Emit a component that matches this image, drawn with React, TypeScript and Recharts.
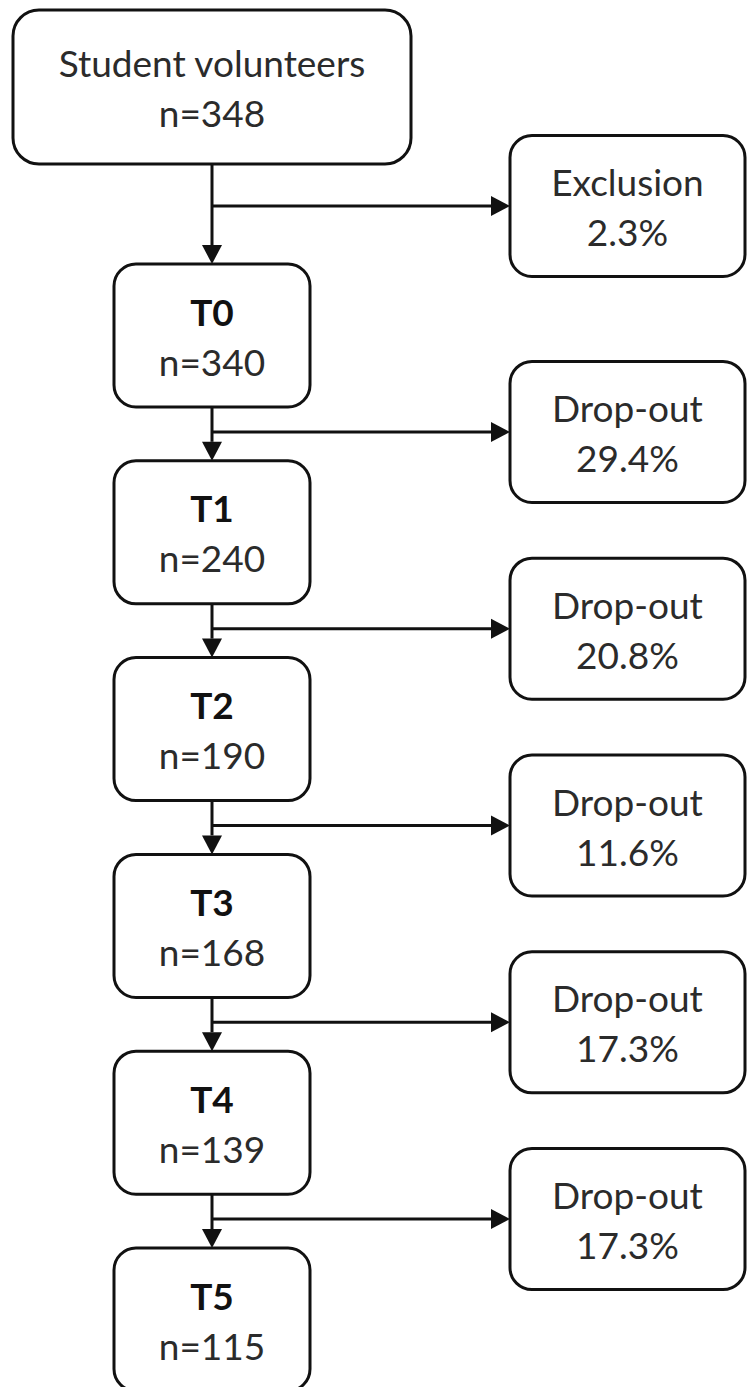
import React from 'react';
import { ScatterChart, Scatter, XAxis, YAxis, ReferenceLine } from 'recharts';

// Flowchart values
const startLabel = 'Student volunteers';
const startCount = 348;
const stages = ['T0', 'T1', 'T2', 'T3', 'T4', 'T5'];
const counts = [340, 240, 190, 168, 139, 115];
const exitLabels = ['Exclusion', 'Drop-out', 'Drop-out', 'Drop-out', 'Drop-out', 'Drop-out'];
const exitPercents = [2.3, 29.4, 20.8, 11.6, 17.3, 17.3];

// Layout (chart units = pixels)
const W = 747;
const H = 1387;
const LEFT_X = 212;
const RIGHT_X = 627.5;
const START_Y = 87;
const ROW0_Y = 335.5;
const ROW_STEP = 196.8;
const SIZES = {
  start: { w: 398, h: 154, r: 26 },
  stage: { w: 196, h: 143, r: 22 },
  exit: { w: 235, h: 141, r: 22 },
};

const rowY = (i: number) => ROW0_Y + ROW_STEP * i;
const branchY = (i: number) => (i === 0 ? 206 : rowY(i - 1) + ROW_STEP / 2 - 2);

const startNodes = [{ x: LEFT_X, y: START_Y, title: startLabel, sub: `n=${startCount}`, kind: 'start' }];
const stageNodes = stages.map((s, i) => ({ x: LEFT_X, y: rowY(i), title: s, sub: `n=${counts[i]}`, kind: 'stage' }));
const exitNodes = exitLabels.map((l, i) => ({
  x: RIGHT_X,
  y: branchY(i),
  title: l,
  sub: `${exitPercents[i].toFixed(1)}%`,
  kind: 'exit',
}));

// connector segments
const downLinks = stages.map((_, i) => {
  const fromY = i === 0 ? START_Y + SIZES.start.h / 2 : rowY(i - 1) + SIZES.stage.h / 2;
  return [
    { x: LEFT_X, y: fromY },
    { x: LEFT_X, y: rowY(i) - SIZES.stage.h / 2 },
  ];
});
const sideLinks = exitLabels.map((_, i) => [
  { x: LEFT_X, y: branchY(i) },
  { x: RIGHT_X - SIZES.exit.w / 2, y: branchY(i) },
]);

const FONT = 'Lato, "Noto Sans", sans-serif';

const NodeBox = (props: any) => {
  const { cx, cy, payload } = props;
  const s = SIZES[payload.kind as keyof typeof SIZES];
  return (
    <g>
      <rect
        x={cx - s.w / 2}
        y={cy - s.h / 2}
        width={s.w}
        height={s.h}
        rx={s.r}
        ry={s.r}
        fill="#fff"
        stroke="#111"
        strokeWidth={3}
      />
      <text
        x={cx}
        y={cy - 10}
        textAnchor="middle"
        fontFamily={FONT}
        fontSize={37}
        fontWeight={payload.kind === 'stage' ? 700 : 400}
        fill={payload.kind === 'stage' ? '#111' : '#2b2b2b'}
      >
        {payload.title}
      </text>
      <text x={cx} y={cy + 40} textAnchor="middle" fontFamily={FONT} fontSize={37} fill="#2b2b2b">
        {payload.sub}
      </text>
    </g>
  );
};

const Arrow = (props: any) => {
  const { x1, y1, x2, y2 } = props;
  const len = 19;
  const half = 10;
  const dx = x2 - x1;
  const dy = y2 - y1;
  const d = Math.sqrt(dx * dx + dy * dy) || 1;
  const ux = dx / d;
  const uy = dy / d;
  const bx = x2 - ux * len;
  const by = y2 - uy * len;
  const pts = `${x2},${y2} ${bx - uy * half},${by + ux * half} ${bx + uy * half},${by - ux * half}`;
  return (
    <g>
      <line x1={x1} y1={y1} x2={bx} y2={by} stroke="#111" strokeWidth={3} />
      <polygon points={pts} fill="#111" />
    </g>
  );
};

export default function App() {
  return (
    <div style={{ position: 'absolute', left: 0, top: 0, width: W, height: H, background: '#fff' }}>
      <ScatterChart width={W} height={H} margin={{ top: 0, right: 0, bottom: 0, left: 0 }}>
        <XAxis type="number" dataKey="x" domain={[0, W]} hide />
        <YAxis type="number" dataKey="y" domain={[0, H]} reversed hide />
        {downLinks.map((seg, i) => (
          <ReferenceLine key={`d${i}`} segment={seg} shape={(p: any) => <Arrow {...p} />} />
        ))}
        {sideLinks.map((seg, i) => (
          <ReferenceLine key={`s${i}`} segment={seg} shape={(p: any) => <Arrow {...p} />} />
        ))}
        <Scatter data={startNodes} shape={(p: any) => <NodeBox {...p} />} isAnimationActive={false} />
        <Scatter data={stageNodes} shape={(p: any) => <NodeBox {...p} />} isAnimationActive={false} />
        <Scatter data={exitNodes} shape={(p: any) => <NodeBox {...p} />} isAnimationActive={false} />
      </ScatterChart>
    </div>
  );
}
